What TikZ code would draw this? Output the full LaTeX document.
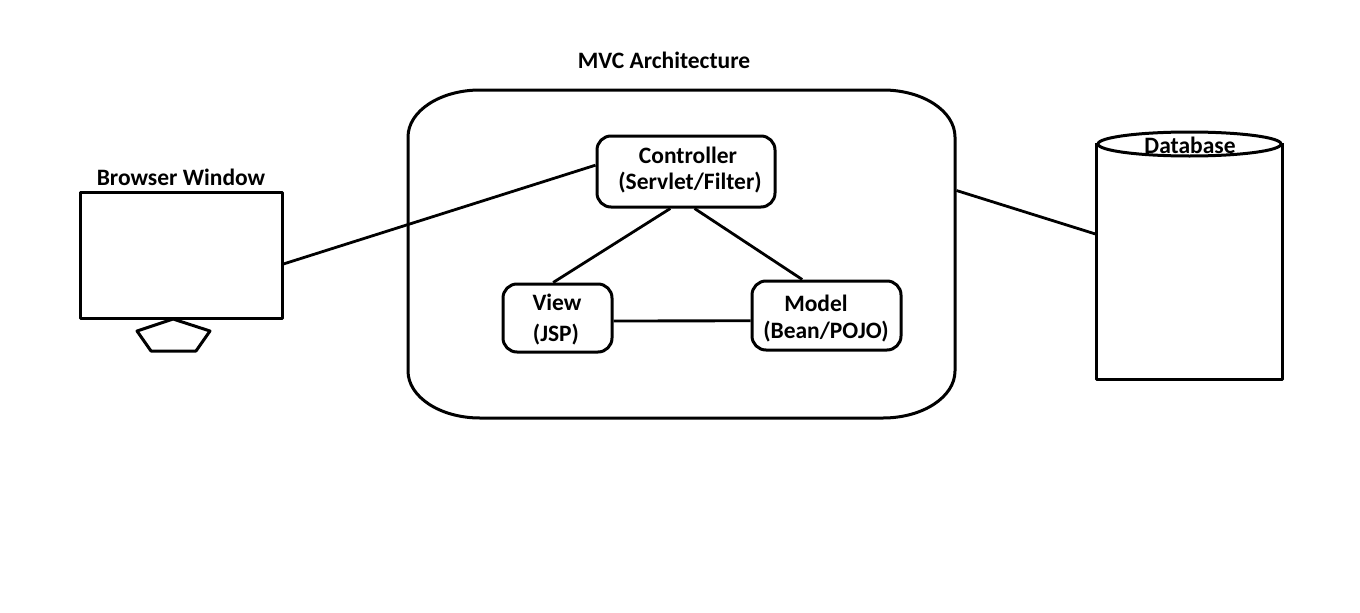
\documentclass[tikz,border=0pt]{standalone}
\usepackage{fontspec}
\setmainfont{Carlito}
\begin{document}
\begin{tikzpicture}[x=1pt,y=-1pt,
  line width=3pt, line join=round,
  lbl/.style={font=\bfseries\fontsize{23.5}{28}\selectfont, inner sep=0pt, align=center},
  comp/.style={draw, rounded corners=14pt, inner sep=0pt},
  ghost/.style={draw=none, inner sep=0pt},
  link/.style={line width=2.8pt}]
\useasboundingbox[fill=white] (0,0) rectangle (1360,613);

% client side: monitor with its stand
\node[draw, minimum width=202pt, minimum height=126pt, inner sep=0pt] (browser) at (181,255) {};
\node[lbl] (browsertitle) at (181,177) {Browser Window};
\draw (173,319) -- (210,331) -- (196,351) -- (151,351) -- (137,331) -- cycle;

% application container with elliptical corners
\node[ghost, minimum width=547pt, minimum height=328pt] (mvc) at (681.5,254) {};
\draw (480,90) -- (883,90)
  arc[start angle=270, end angle=360, x radius=72, y radius=47]
  -- (955,371)
  arc[start angle=0, end angle=90, x radius=72, y radius=47]
  -- (480,418)
  arc[start angle=90, end angle=180, x radius=72, y radius=47]
  -- (408,137)
  arc[start angle=180, end angle=270, x radius=72, y radius=47] -- cycle;
\node[lbl] (mvctitle) at (664,60) {MVC Architecture};

% the three MVC parts
\node[comp, minimum width=178pt, minimum height=71pt] (ctrl) at (686,171.5) {};
\node[lbl] (ctrlname) at (688,155) {Controller};
\node[lbl] (ctrlimpl) at (690,183) {(Servlet/Filter)};

\node[comp, minimum width=109pt, minimum height=68pt] (view) at (557.5,318) {};
\node[lbl] (viewname) at (557,302) {View};
\node[lbl] (viewimpl) at (556,335) {(JSP)};

\node[comp, minimum width=149pt, minimum height=69pt] (model) at (826.5,315.5) {};
\node[lbl] (modelname) at (816,303) {Model};
\node[lbl] (modelimpl) at (826,332) {(Bean/POJO)};

% database cylinder with a flat base
\node[ghost, minimum width=183pt, minimum height=234pt] (db) at (1189.5,261) {};
\draw (db.north west) -- (db.south west) -- (db.south east) -- (db.north east);
\draw[fill=white] (1189.5,144) ellipse[x radius=91.5, y radius=12];
\node[lbl] (dbtitle) at (1190,145) {Database};

% connectors
\draw[link] (browser.-5) -- (ctrl.176);
\draw[link] (ctrl.247) -- (view.97);
\draw[link] (ctrl.283) -- (model.124);
\draw[link] (view.-3) -- (model.184);
\draw[link] (mvc.13.2) -- (db.164.7);
\end{tikzpicture}
\end{document}
